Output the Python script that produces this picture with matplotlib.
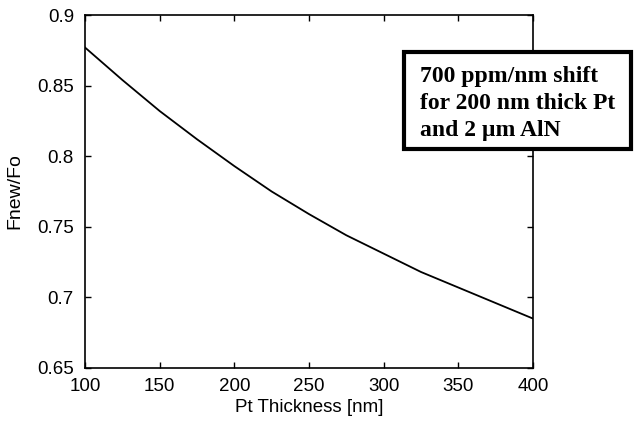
import matplotlib
matplotlib.use("Agg")
import matplotlib.pyplot as plt
from matplotlib.patches import Rectangle

# Values
thickness_nm = [100, 125, 150, 175, 200, 225, 250, 275, 300, 325, 350, 375, 400]
freq_ratio = [0.877, 0.854, 0.832, 0.812, 0.793, 0.775, 0.759, 0.744,
              0.731, 0.718, 0.707, 0.696, 0.685]

x_ticks = [100, 150, 200, 250, 300, 350, 400]
y_ticks = [0.65, 0.7, 0.75, 0.8, 0.85, 0.9]
y_tick_labels = ["0.65", "0.7", "0.75", "0.8", "0.85", "0.9"]

note_lines = ["700 ppm/nm shift", "for 200 nm thick Pt", "and 2 \u00b5m AlN"]

plt.rcParams['font.family'] = ['Liberation Sans', 'DejaVu Sans']

fig = plt.figure(figsize=(6.34, 4.26), dpi=100)
ax = fig.add_axes([85 / 634, 58 / 426, 448 / 634, 353 / 426])

ax.plot(thickness_nm, freq_ratio, color='black', linewidth=1.3)
ax.set_xlim(100, 400)
ax.set_ylim(0.65, 0.9)
ax.set_xticks(x_ticks)
ax.set_yticks(y_ticks)
ax.set_yticklabels(y_tick_labels)
ax.tick_params(direction='in', length=4, width=1, top=True, right=True,
               labelsize=13.5)
ax.tick_params(axis='x', pad=7)
ax.tick_params(axis='y', pad=8)
for sp in ax.spines.values():
    sp.set_linewidth(1.2)
ax.set_xlabel('Pt Thickness [nm]', fontsize=13.5, labelpad=3)
ax.set_ylabel('Fnew/Fo', fontsize=14, labelpad=10)

# annotation box drawn in figure coordinates
box = Rectangle((404 / 634, 1 - 149 / 426), 227 / 634, 97 / 426,
                transform=fig.transFigure, facecolor='white',
                edgecolor='black', linewidth=3, zorder=5)
fig.patches.append(box)
for i, line in enumerate(note_lines):
    fig.text(420 / 634, 1 - (82 + 27 * i) / 426, line,
             family=['Liberation Serif', 'DejaVu Serif'], fontweight='bold',
             fontsize=17, va='baseline', ha='left', zorder=6)

fig.savefig("out.png", dpi=100)
